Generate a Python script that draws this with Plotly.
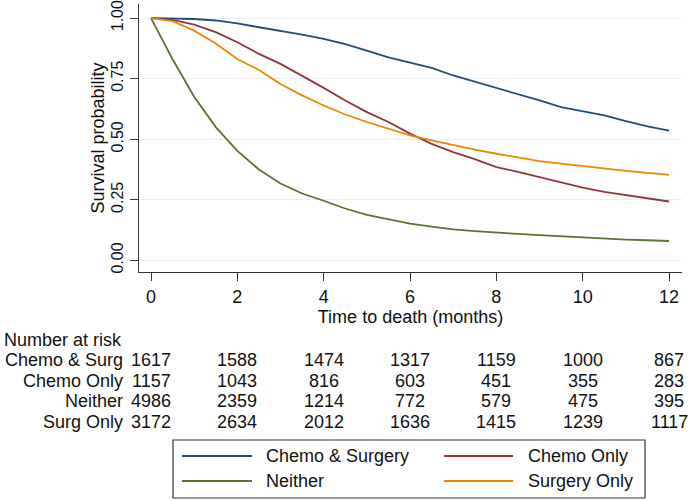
import plotly.graph_objects as go

# ---------------- data ----------------
months = [0, 0.5, 1, 1.5, 2, 2.5, 3, 3.5, 4, 4.5, 5, 5.5, 6, 6.5, 7, 7.5, 8,
          8.5, 9, 9.5, 10, 10.5, 11, 11.5, 12]

chemo_surgery = [1.000, 0.999, 0.996, 0.990, 0.978, 0.962, 0.948, 0.932, 0.914,
                 0.892, 0.866, 0.838, 0.816, 0.794, 0.763, 0.738, 0.712, 0.687,
                 0.660, 0.632, 0.616, 0.598, 0.575, 0.553, 0.535]
chemo_only = [1.000, 0.992, 0.973, 0.942, 0.900, 0.852, 0.811, 0.763, 0.712,
              0.660, 0.612, 0.571, 0.523, 0.481, 0.447, 0.418, 0.385, 0.365,
              0.344, 0.320, 0.300, 0.283, 0.269, 0.255, 0.243]
neither = [1.000, 0.830, 0.675, 0.550, 0.452, 0.375, 0.317, 0.276, 0.246,
           0.214, 0.188, 0.170, 0.152, 0.139, 0.128, 0.121, 0.114, 0.109,
           0.104, 0.099, 0.095, 0.090, 0.086, 0.083, 0.080]
surgery_only = [1.000, 0.987, 0.948, 0.895, 0.831, 0.786, 0.728, 0.681, 0.639,
                0.602, 0.571, 0.543, 0.516, 0.495, 0.475, 0.457, 0.440, 0.424,
                0.410, 0.399, 0.388, 0.379, 0.369, 0.361, 0.353]

series_names = ["Chemo & Surgery", "Chemo Only", "Neither", "Surgery Only"]
series_values = [chemo_surgery, chemo_only, neither, surgery_only]
series_colors = ["#1f4c78", "#90353b", "#55752f", "#ef8400"]

risk_times = [0, 2, 4, 6, 8, 10, 12]
risk_labels = ["Chemo & Surg", "Chemo Only", "Neither", "Surg Only"]
risk_chemo_surg = [1617, 1588, 1474, 1317, 1159, 1000, 867]
risk_chemo_only = [1157, 1043, 816, 603, 451, 355, 283]
risk_neither = [4986, 2359, 1214, 772, 579, 475, 395]
risk_surg_only = [3172, 2634, 2012, 1636, 1415, 1239, 1117]
risk_rows = [risk_chemo_surg, risk_chemo_only, risk_neither, risk_surg_only]

x_ticks = [0, 2, 4, 6, 8, 10, 12]
y_ticks = [0, 0.25, 0.5, 0.75, 1.0]
y_ticktext = ["0.00", "0.25", "0.50", "0.75", "1.00"]

# ---------------- layout geometry ----------------
W, H = 689, 501
ML, MR, MT, MB = 139, 7, 4, 229
PW, PH = W - ML - MR, H - MT - MB
FONT = "Liberation Sans, Arial, sans-serif"
TXT = "#111111"
FS = 18


def px(p):  # pixel x -> paper x
    return (p - ML) / PW


def py(p):  # pixel y -> paper y
    return (H - MB - p) / PH


fig = go.Figure()
for name, vals, col in zip(series_names, series_values, series_colors):
    fig.add_trace(go.Scatter(x=months, y=vals, mode="lines", name=name,
                             line=dict(color=col, width=1.8),
                             showlegend=False))

annotations = []
shapes = []

# risk table
annotations.append(dict(text="Number at risk", xref="paper", yref="paper",
                        x=px(2), y=py(340), xanchor="left", yanchor="middle",
                        showarrow=False, font=dict(size=FS, color=TXT, family=FONT)))
row_y = [360, 381, 401, 422]
for lab, row, ry in zip(risk_labels, risk_rows, row_y):
    annotations.append(dict(text=lab, xref="paper", yref="paper",
                            x=px(125), y=py(ry), xanchor="right", yanchor="middle",
                            showarrow=False,
                            font=dict(size=FS, color=TXT, family=FONT)))
    for t, n in zip(risk_times, row):
        annotations.append(dict(text=str(n), xref="x", yref="paper",
                                x=t, y=py(ry), xanchor="center", yanchor="middle",
                                showarrow=False,
                                font=dict(size=FS, color=TXT, family=FONT)))

# legend box (drawn)
shapes.append(dict(type="rect", xref="paper", yref="paper",
                   x0=px(173), x1=px(645), y0=py(498), y1=py(440),
                   line=dict(color="#333333", width=1.2), fillcolor="white"))
leg_pos = [(182, 252, 264, 456), (444, 513, 526, 456),
           (182, 252, 264, 481), (444, 513, 526, 481)]
for name, col, (lx0, lx1, tx, ly) in zip(series_names, series_colors, leg_pos):
    shapes.append(dict(type="line", xref="paper", yref="paper",
                       x0=px(lx0), x1=px(lx1), y0=py(ly), y1=py(ly),
                       line=dict(color=col, width=1.8)))
    annotations.append(dict(text=name, xref="paper", yref="paper",
                            x=px(tx), y=py(ly), xanchor="left", yanchor="middle",
                            showarrow=False,
                            font=dict(size=FS, color=TXT, family=FONT)))

fig.update_layout(
    width=W, height=H,
    margin=dict(l=ML, r=MR, t=MT, b=MB, pad=0, autoexpand=False),
    paper_bgcolor="white", plot_bgcolor="white",
    font=dict(family=FONT, size=FS, color=TXT),
    showlegend=False,
    annotations=annotations,
    shapes=shapes,
    xaxis=dict(range=[-0.278, 12.30], tickvals=x_ticks, automargin=False,
               ticks="outside", ticklen=8, tickwidth=1.3, tickcolor="#333333",
               showline=True, linecolor="#333333", linewidth=1.3,
               showgrid=False, zeroline=False,
               tickfont=dict(size=FS, color=TXT, family=FONT),
               title=dict(text="Time to death (months)", standoff=0,
                          font=dict(size=FS, color=TXT, family=FONT))),
    yaxis=dict(range=[-0.048, 1.058], tickvals=y_ticks, ticktext=y_ticktext,
               tickangle=-90, automargin=False, ticklabeloverflow="allow",
               ticks="outside", ticklen=8, tickwidth=1.3, tickcolor="#333333",
               showline=True, linecolor="#333333", linewidth=1.3,
               showgrid=True, gridcolor="#e6eff3", gridwidth=1.3, zeroline=False,
               tickfont=dict(size=16, color=TXT, family=FONT),
               title=dict(text="Survival probability", standoff=0,
                          font=dict(size=FS, color=TXT, family=FONT))),
)

fig.write_html("out.html", config={"displayModeBar": False},
               post_script="document.body.style.margin='0px';")
